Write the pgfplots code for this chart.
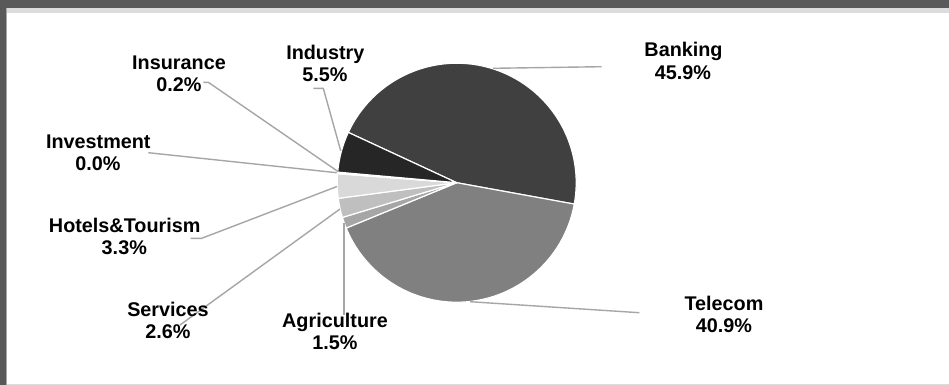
\documentclass[border=0pt]{standalone}
\usepackage{pgfplots}
\usepackage{pgfplotstable}
\pgfplotsset{compat=1.18}
\usepackage{fontspec}
\setmainfont{Liberation Sans}
\definecolor{cFrame}{HTML}{595959}
\definecolor{cBand}{HTML}{DCDCDC}
\definecolor{cBank}{HTML}{404040}
\definecolor{cTel}{HTML}{808080}
\definecolor{cAgr}{HTML}{A6A6A6}
\definecolor{cSer}{HTML}{BFBFBF}
\definecolor{cHot}{HTML}{D9D9D9}
\definecolor{cInv}{HTML}{F2F2F2}
\definecolor{cIns}{HTML}{7F7F7F}
\definecolor{cInd}{HTML}{262626}
\definecolor{cLead}{HTML}{A6A6A6}

\pgfplotstableread{
sector value shade
Banking 45.9 cBank
Telecom 40.9 cTel
Agriculture 1.5 cAgr
Services 2.6 cSer
Hotels 3.3 cHot
Investment 0.0 cInv
Insurance 0.2 cIns
Industry 5.5 cInd
}\piedata

% precompute slice angles from the table (outside any axis)
\pgfplotstablegetrowsof{\piedata}
\pgfmathtruncatemacro{\nrows}{\pgfplotsretval-1}
\gdef\pietotal{0}
\foreach \i in {0,...,\nrows}{
  \pgfplotstablegetelem{\i}{value}\of{\piedata}
  \pgfmathsetmacro{\tmp}{\pietotal+\pgfplotsretval}
  \xdef\pietotal{\tmp}
}
\gdef\angA{155.1}
\foreach \i in {0,...,\nrows}{
  \pgfplotstablegetelem{\i}{value}\of{\piedata}
  \pgfmathsetmacro{\angB}{\angA-(\pgfplotsretval/\pietotal)*360}
  \pgfplotstablegetelem{\i}{shade}\of{\piedata}
  \expandafter\xdef\csname sliceC\i\endcsname{\pgfplotsretval}
  \expandafter\xdef\csname sliceA\i\endcsname{\angA}
  \expandafter\xdef\csname sliceB\i\endcsname{\angB}
  \xdef\angA{\angB}
}

\begin{document}
\begin{tikzpicture}[
  leader/.style={draw=cLead, line width=1.4bp},
  lab/.style={anchor=base, font=\bfseries\fontsize{19.8bp}{23bp}\selectfont, inner sep=0pt},
]
% frame (drawn slightly past the page edge on the right and bottom)
\fill[cFrame] (0,0) rectangle (960bp,-395bp);
\fill[white] (6bp,-8bp) rectangle (960bp,-395bp);
\fill[cBand] (6bp,-8bp) rectangle (960bp,-12.5bp);
\fill[cBand] (6bp,-383.5bp) rectangle (960bp,-395bp);
\fill[gray!70] (6bp,-8bp) rectangle (7bp,-395bp);
\begin{axis}[
  at={(0,0)}, anchor=north west,
  width=949bp, height=385bp, scale only axis,
  xmin=0, xmax=949, ymin=0, ymax=385, y dir=reverse,
  hide axis, clip=false,
]
\pgfplotsextra{
  \foreach \i in {0,...,\nrows}{
    \edef\col{\csname sliceC\i\endcsname}
    \edef\sa{\csname sliceA\i\endcsname}
    \edef\sb{\csname sliceB\i\endcsname}
    \fill[fill=\col, draw=white, line width=1.2bp, line join=round]
      (axis cs:456.7,182.7) -- ++(\sa:119.5bp)
      arc[start angle=\sa, end angle=\sb, radius=119.5bp] -- cycle;
  }
}
% leader lines
\draw[leader] (axis cs:493,68.3) -- (axis cs:601.7,66.7);
\draw[leader] (axis cs:470,301.7) -- (axis cs:639.3,312.7);
\draw[leader] (axis cs:313.3,88.3) -- (axis cs:323.3,88.3) -- (axis cs:340.7,150.7);
\draw[leader] (axis cs:203.3,82.3) -- (axis cs:208.3,82.3) -- (axis cs:338.3,171.7);
\draw[leader] (axis cs:148.3,152.7) -- (axis cs:336.7,172.7);
\draw[leader] (axis cs:190.7,238.3) -- (axis cs:201.7,238.3) -- (axis cs:337,186.5);
\draw[leader] (axis cs:180,325) -- (axis cs:340,209);
\draw[leader] (axis cs:344,223) -- (axis cs:344,315);
% labels
\node[lab] at (axis cs:683.5,56.7) {Banking};
\node[lab] at (axis cs:683,79.3) {45.9\%};
\node[lab] at (axis cs:724,310) {Telecom};
\node[lab] at (axis cs:724,332.7) {40.9\%};
\node[lab] at (axis cs:325.3,59.3) {Industry};
\node[lab] at (axis cs:325,81.7) {5.5\%};
\node[lab] at (axis cs:179,69) {Insurance};
\node[lab] at (axis cs:179,91.7) {0.2\%};
\node[lab] at (axis cs:98.3,148.3) {Investment};
\node[lab] at (axis cs:98,170) {0.0\%};
\node[lab] at (axis cs:124.7,232.3) {Hotels\&Tourism};
\node[lab] at (axis cs:124.3,254.3) {3.3\%};
\node[lab] at (axis cs:168,316) {Services};
\node[lab] at (axis cs:168,338.3) {2.6\%};
\node[lab] at (axis cs:335,327.7) {Agriculture};
\node[lab] at (axis cs:335,349.3) {1.5\%};
\end{axis}
\pgfresetboundingbox
\useasboundingbox (0,0) rectangle (949bp,-385bp);
\end{tikzpicture}
\end{document}
